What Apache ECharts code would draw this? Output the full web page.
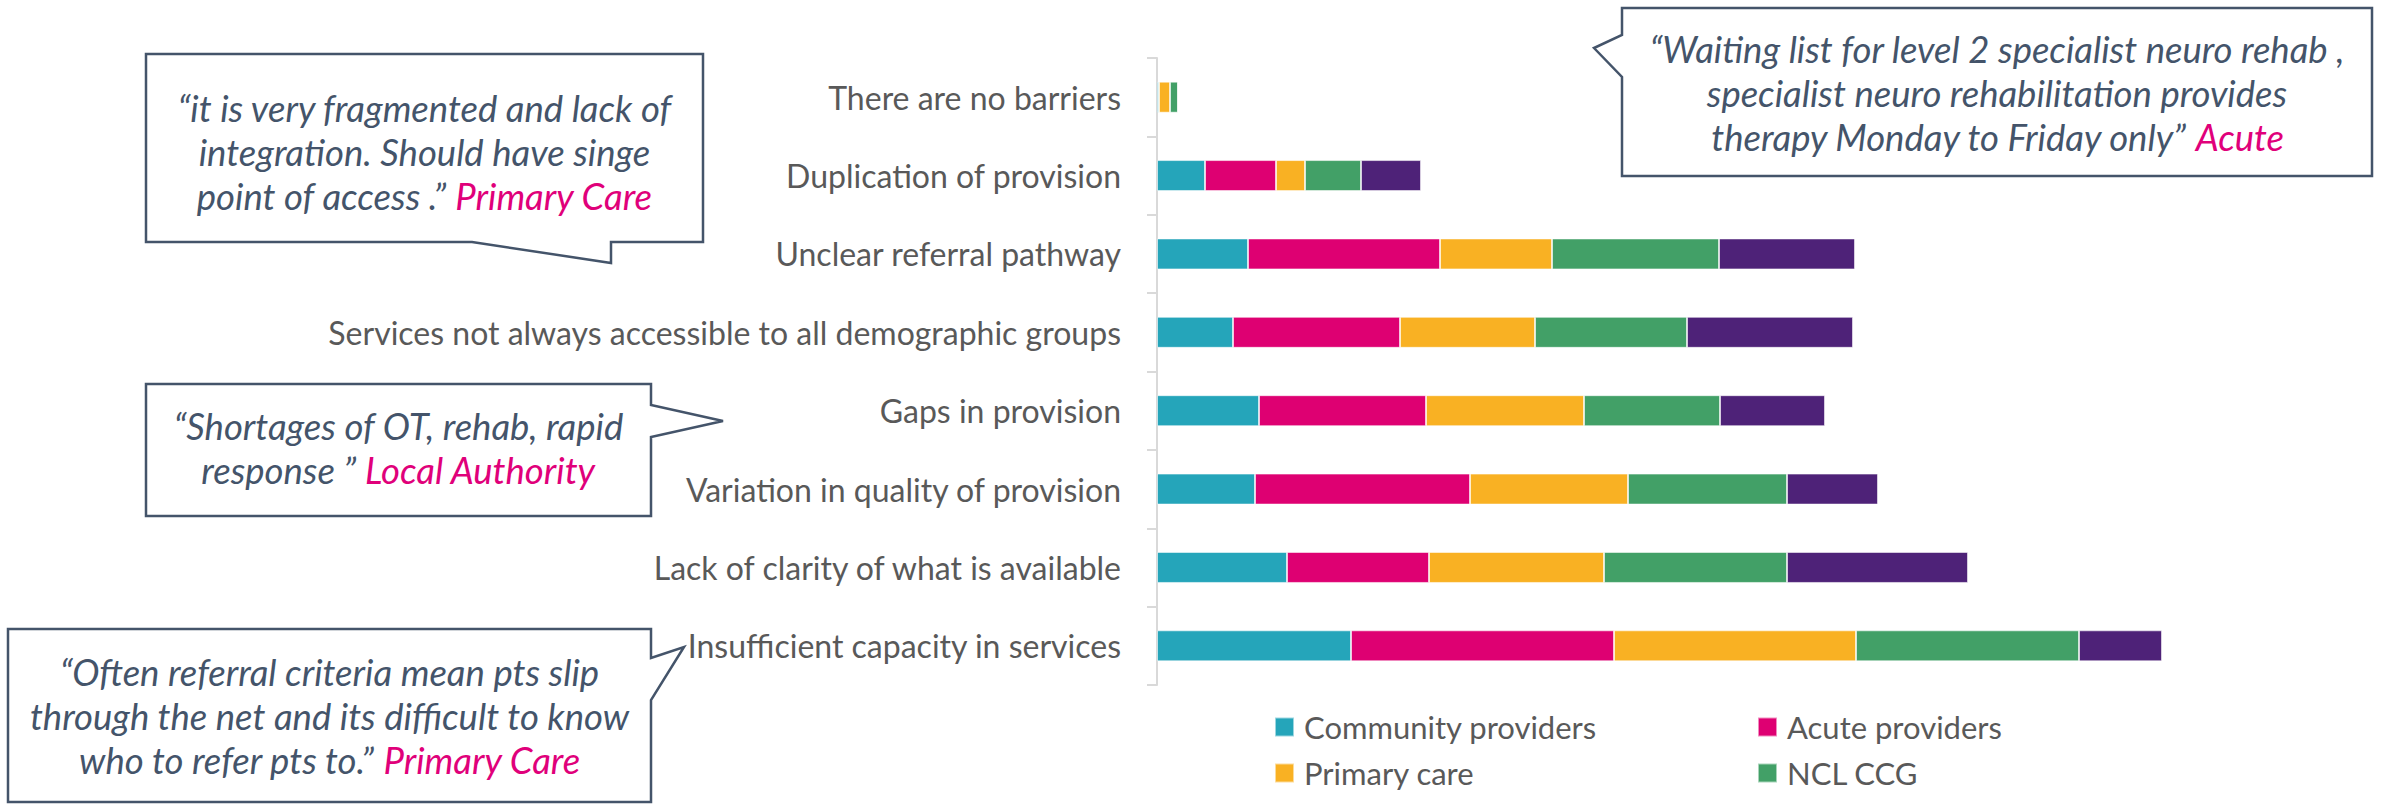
<!DOCTYPE html>
<html>
<head>
<meta charset="utf-8">
<script src="https://cdn.jsdelivr.net/npm/echarts@6/dist/echarts.min.js"></script>
<style>
html,body{margin:0;padding:0;background:#ffffff;}
#c{width:2382px;height:807px;}
</style>
</head>
<body>
<div id="c"></div>
<script>
// ---- data (arbitrary horizontal units) ----
const categories = [
  'There are no barriers',
  'Duplication of provision',
  'Unclear referral pathway',
  'Services not always accessible to all demographic groups',
  'Gaps in provision',
  'Variation in quality of provision',
  'Lack of clarity of what is available',
  'Insufficient capacity in services'
];
const seriesNames = ['Community providers', 'Acute providers', 'Primary care', 'NCL CCG', 'Local Authority'];
const communityProviders = [0.2, 4.8, 9.1, 7.6, 10.2, 9.8, 13.0, 19.4];
const acuteProviders     = [0.0, 7.1, 19.2, 16.7, 16.7, 21.5, 14.2, 26.3];
const primaryCare        = [1.1, 2.9, 11.2, 13.5, 15.8, 15.8, 17.5, 24.2];
const nclCcg             = [0.8, 5.6, 16.7, 15.2, 13.6, 15.9, 18.3, 22.3];
const localAuthority     = [0.0, 6.0, 13.6, 16.6, 10.5, 9.1, 18.1, 8.3];
const legendColumn1 = ['Community providers', 'Primary care'];
const legendColumn2 = ['Acute providers', 'NCL CCG'];

const quote1 = ['“it is very fragmented and lack of', 'integration. Should have singe', 'point of access .” '];
const quote1Source = 'Primary Care';
const quote2 = ['“Waiting list for level 2 specialist neuro rehab ,', 'specialist neuro rehabilitation provides', 'therapy Monday to Friday only” '];
const quote2Source = 'Acute';
const quote3 = ['“Shortages of OT, rehab, rapid', 'response ” '];
const quote3Source = 'Local Authority';
const quote4 = ['“Often referral criteria mean pts slip', 'through the net and its difficult to know', 'who to refer pts to.” '];
const quote4Source = 'Primary Care';

// ---- styling ----
const colors = ['#25A5BA', '#DE0072', '#F9B123', '#42A067', '#4E2278'];
const values = [communityProviders, acuteProviders, primaryCare, nclCcg, localAuthority];
const FONT = 'Lato, "Open Sans", sans-serif';
const QUOTE_COLOR = '#44546A';
const SOURCE_COLOR = '#E0007A';
const QFS = 36.5;
const QLH = 44;

function quoteText(lines, source, cx, cy) {
  const parts = lines.map(function (l, i) {
    let s = '{q|' + l + '}';
    if (i === lines.length - 1) s += '{r|' + source + '}';
    return s;
  });
  return {
    type: 'text',
    z: 110,
    style: {
      text: parts.join('\n'),
      x: cx, y: cy,
      align: 'center', verticalAlign: 'middle',
      textAlign: 'center', textVerticalAlign: 'middle',
      fontFamily: FONT, fontSize: QFS, fontStyle: 'italic',
      lineHeight: QLH,
      fill: QUOTE_COLOR,
      rich: {
        q: {fill: QUOTE_COLOR, fontFamily: FONT, fontSize: QFS, fontStyle: 'italic', lineHeight: QLH, align: 'center'},
        r: {fill: SOURCE_COLOR, fontFamily: FONT, fontSize: QFS, fontStyle: 'italic', lineHeight: QLH, align: 'center'}
      }
    }
  };
}
function bubble(points) {
  return {
    type: 'polygon',
    z: 100,
    shape: {points: points},
    style: {fill: '#ffffff', stroke: '#44546A', lineWidth: 2.5, lineJoin: 'miter'}
  };
}

const chart = echarts.init(document.getElementById('c'), null, {renderer: 'svg'});

const legendCommon = {
  orient: 'vertical',
  top: 705,
  itemWidth: 19,
  itemHeight: 19,
  itemGap: 12,
  icon: 'rect',
  selectedMode: false,
  textStyle: {fontFamily: FONT, fontSize: 31, color: '#595959', lineHeight: 34, padding: [0, 0, 0, 5]}
};

chart.setOption({
  backgroundColor: '#ffffff',
  animation: false,
  grid: {left: 1157, top: 58, width: 1100, height: 627, containLabel: false},
  xAxis: {
    type: 'value', min: 0, max: 110, show: false
  },
  yAxis: {
    type: 'category',
    data: categories,
    inverse: true,
    axisLine: {show: true, lineStyle: {color: '#D9D9D9', width: 2}},
    axisTick: {show: true, length: 10, lineStyle: {color: '#D9D9D9', width: 2}},
    axisLabel: {margin: 36, color: '#595959', fontFamily: FONT, fontSize: 32},
    splitLine: {show: false}
  },
  legend: [
    Object.assign({}, legendCommon, {left: 1269, data: legendColumn1}),
    Object.assign({}, legendCommon, {left: 1752, data: legendColumn2})
  ],
  series: seriesNames.map(function (name, i) {
    return {
      name: name,
      type: 'bar',
      stack: 'total',
      barWidth: 31,
      data: values[i],
      itemStyle: {color: colors[i], borderColor: 'rgba(255,255,255,0.55)', borderWidth: 1},
      emphasis: {disabled: true}
    };
  }),
  graphic: [
    bubble([[146,54],[703,54],[703,242],[611,242],[611,263],[472,242],[146,242]]),
    quoteText(quote1, quote1Source, 424.5, 152),
    bubble([[1622,8],[2372,8],[2372,176],[1622,176],[1622,77],[1594,48],[1622,35]]),
    quoteText(quote2, quote2Source, 1997, 93),
    bubble([[146,384],[651,384],[651,405],[723,421],[651,437],[651,516],[146,516]]),
    quoteText(quote3, quote3Source, 398.5, 448),
    bubble([[8,629],[651,629],[651,658],[684,647],[651,700],[651,802],[8,802]]),
    quoteText(quote4, quote4Source, 329.5, 716)
  ]
});
</script>
</body>
</html>
